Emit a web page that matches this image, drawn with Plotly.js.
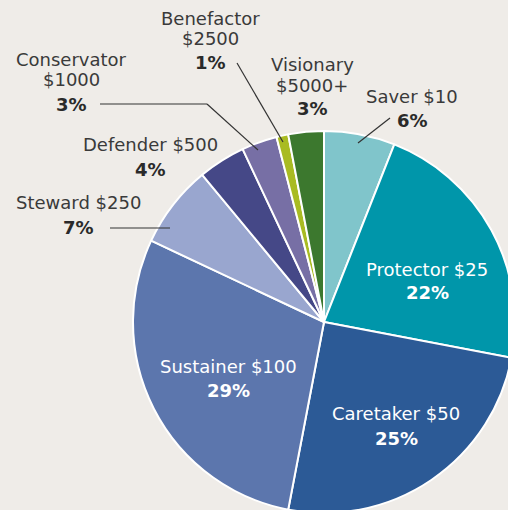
<!DOCTYPE html>
<html>
<head>
<meta charset="utf-8">
<script src="https://cdn.plot.ly/plotly-3.0.1.min.js"></script>
<style>
  html, body { margin: 0; padding: 0; width: 508px; height: 510px; overflow: hidden; background: #efece8; }
  #chart { position: absolute; left: 0; top: 0; width: 560px; height: 560px; }
</style>
</head>
<body>
<div id="chart"></div>
<script>
// ---- data ----
const names = ['Saver $10', 'Protector $25', 'Caretaker $50', 'Sustainer $100', 'Steward $250',
               'Defender $500', 'Conservator $1000', 'Benefactor $2500', 'Visionary $5000+'];
const shares = [6, 22, 25, 29, 7, 4, 3, 1, 3];
const colors = ['#80c5cb', '#0096aa', '#2c5a96', '#5c76ad', '#99a6cf',
                '#454887', '#776fa5', '#a9bb22', '#3c782e'];

// ---- label layout (pixel positions in the page) ----
const W = 560, H = 560;
const labelLayout = [
  {x: 412, ys: [96, 120], wrap: false, inside: false},
  {x: 427, ys: [269, 292], wrap: false, inside: true},
  {x: 396, ys: [413, 438], wrap: false, inside: true},
  {x: 228, ys: [366, 390], wrap: false, inside: true},
  {x: 78,  ys: [202, 227], wrap: false, inside: false},
  {x: 150, ys: [144, 169], wrap: false, inside: false},
  {x: 71,  ys: [60, 80, 104], wrap: true, inside: false},
  {x: 210, ys: [18, 39, 62], wrap: true, inside: false},
  {x: 312, ys: [64, 85, 109], wrap: true, inside: false}
];
const leaders = [
  [[358, 143], [390, 118]],
  [[283, 142], [237, 63]],
  [[100, 104], [207, 104], [258, 150]],
  [[110, 228], [170, 228]]
];

const px = x => x / W;
const py = y => 1 - y / H;
const FONT = 'DejaVu Sans, sans-serif';

const annotations = [];
names.forEach((nm, i) => {
  const L = labelLayout[i];
  let lines;
  if (L.wrap) {
    const k = nm.lastIndexOf(' ');
    lines = [nm.slice(0, k), nm.slice(k + 1)];
  } else {
    lines = [nm];
  }
  const col = L.inside ? '#ffffff' : '#3a3a3a';
  const pcol = L.inside ? '#ffffff' : '#2a2a2a';
  lines.forEach((t, j) => {
    annotations.push({
      xref: 'paper', yref: 'paper', x: px(L.x), y: py(L.ys[j]),
      xanchor: 'center', yanchor: 'middle', showarrow: false, borderpad: 0,
      text: t, font: {family: FONT, size: 18, color: col}
    });
  });
  annotations.push({
    xref: 'paper', yref: 'paper', x: px(L.x), y: py(L.ys[lines.length]),
    xanchor: 'center', yanchor: 'middle', showarrow: false, borderpad: 0,
    text: '<b>' + shares[i] + '%</b>', font: {family: FONT, size: 18, color: pcol}
  });
});

const shapes = [];
leaders.forEach(pts => {
  for (let k = 0; k < pts.length - 1; k++) {
    shapes.push({
      type: 'line', xref: 'paper', yref: 'paper',
      x0: px(pts[k][0]), y0: py(pts[k][1]), x1: px(pts[k + 1][0]), y1: py(pts[k + 1][1]),
      line: {color: '#333333', width: 1.2}
    });
  }
});

const cx = 324, cy = 322, r = 191;
const trace = {
  type: 'pie',
  labels: names,
  values: shares,
  sort: false,
  direction: 'clockwise',
  rotation: 0,
  textinfo: 'none',
  hoverinfo: 'skip',
  marker: {colors: colors, line: {color: '#ffffff', width: 2}},
  domain: {x: [px(cx - r), px(cx + r)], y: [py(cy + r), py(cy - r)]},
  showlegend: false
};

Plotly.newPlot('chart', [trace], {
  width: W, height: H,
  margin: {l: 0, r: 0, t: 0, b: 0},
  paper_bgcolor: '#efece8',
  plot_bgcolor: '#efece8',
  showlegend: false,
  annotations: annotations,
  shapes: shapes
}, {staticPlot: true, displayModeBar: false});
</script>
</body>
</html>
